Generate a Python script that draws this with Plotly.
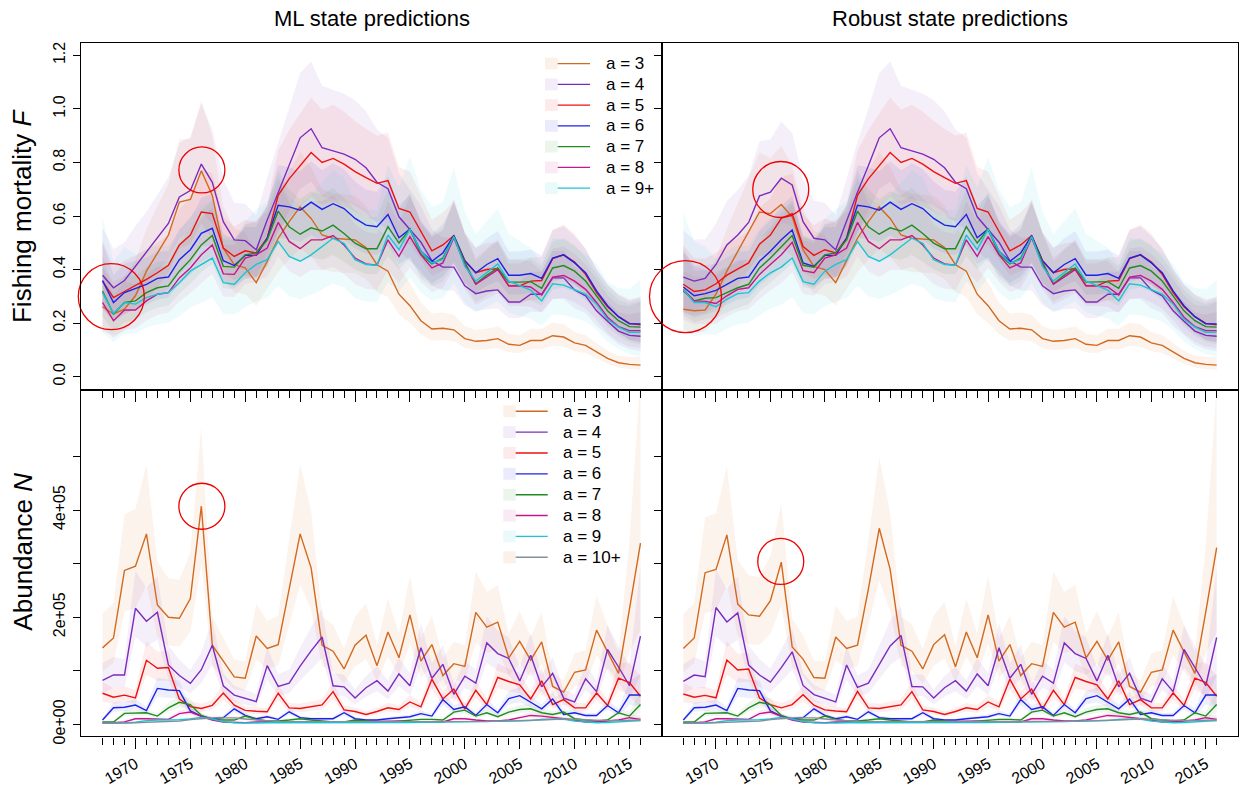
import math
import plotly.graph_objects as go

# ---------------- data ----------------
years = list(range(1967, 2017))

# Fishing mortality, ML state predictions
F_ml_a3 = [0.261,0.234,0.252,0.302,0.394,0.462,0.529,0.652,0.662,0.769,0.677,0.480,0.418,0.406,0.351,0.431,0.517,0.579,0.634,0.591,0.529,0.517,0.514,0.511,0.482,0.418,0.394,0.308,0.265,0.209,0.178,0.181,0.175,0.142,0.132,0.135,0.142,0.121,0.117,0.135,0.135,0.153,0.148,0.126,0.117,0.092,0.068,0.052,0.046,0.043]
F_ml_a4 = [0.379,0.332,0.359,0.412,0.462,0.517,0.572,0.671,0.695,0.794,0.726,0.579,0.511,0.508,0.474,0.585,0.689,0.788,0.892,0.926,0.855,0.843,0.831,0.812,0.780,0.726,0.702,0.597,0.548,0.502,0.433,0.409,0.409,0.339,0.310,0.320,0.324,0.279,0.279,0.308,0.308,0.369,0.369,0.324,0.302,0.246,0.207,0.170,0.154,0.151]
F_ml_a5 = [0.357,0.295,0.318,0.339,0.363,0.388,0.416,0.492,0.529,0.615,0.609,0.480,0.449,0.470,0.462,0.517,0.677,0.739,0.788,0.837,0.800,0.815,0.794,0.766,0.743,0.722,0.732,0.628,0.615,0.542,0.470,0.492,0.527,0.433,0.388,0.400,0.403,0.339,0.339,0.357,0.359,0.441,0.455,0.428,0.382,0.314,0.261,0.224,0.199,0.194]
F_ml_a6 = [0.359,0.277,0.314,0.330,0.345,0.367,0.372,0.437,0.474,0.535,0.554,0.433,0.415,0.453,0.453,0.517,0.640,0.634,0.622,0.652,0.625,0.646,0.628,0.591,0.566,0.560,0.606,0.519,0.551,0.468,0.431,0.462,0.527,0.433,0.388,0.419,0.441,0.379,0.379,0.385,0.367,0.443,0.455,0.425,0.388,0.320,0.265,0.224,0.197,0.197]
F_ml_a7 = [0.320,0.234,0.277,0.283,0.314,0.332,0.339,0.394,0.437,0.492,0.527,0.412,0.409,0.455,0.462,0.511,0.618,0.560,0.532,0.556,0.544,0.566,0.535,0.499,0.478,0.478,0.560,0.499,0.551,0.458,0.421,0.443,0.523,0.428,0.347,0.379,0.406,0.353,0.353,0.355,0.330,0.406,0.415,0.394,0.357,0.302,0.246,0.209,0.187,0.185]
F_ml_a8 = [0.277,0.209,0.249,0.249,0.283,0.308,0.314,0.369,0.406,0.455,0.492,0.384,0.382,0.443,0.455,0.480,0.576,0.505,0.478,0.511,0.511,0.527,0.492,0.443,0.421,0.416,0.511,0.449,0.523,0.455,0.406,0.425,0.519,0.419,0.345,0.372,0.400,0.339,0.339,0.335,0.305,0.372,0.378,0.357,0.326,0.277,0.222,0.187,0.172,0.172]
F_ml_a9 = [0.314,0.236,0.277,0.271,0.295,0.308,0.314,0.351,0.394,0.419,0.443,0.351,0.345,0.388,0.419,0.437,0.505,0.449,0.431,0.455,0.486,0.517,0.498,0.437,0.419,0.416,0.529,0.474,0.551,0.468,0.425,0.437,0.523,0.412,0.357,0.388,0.421,0.357,0.339,0.323,0.283,0.347,0.342,0.326,0.308,0.271,0.215,0.185,0.166,0.166]

# Fishing mortality, robust state predictions
F_rb_a3 = [0.252,0.246,0.249,0.308,0.394,0.468,0.542,0.615,0.609,0.643,0.597,0.474,0.412,0.400,0.351,0.431,0.517,0.579,0.634,0.591,0.529,0.517,0.514,0.511,0.482,0.418,0.394,0.308,0.265,0.209,0.178,0.181,0.175,0.142,0.132,0.135,0.142,0.121,0.117,0.135,0.135,0.153,0.148,0.126,0.117,0.092,0.068,0.052,0.046,0.043]
F_rb_a4 = [0.372,0.357,0.367,0.419,0.492,0.529,0.576,0.675,0.689,0.741,0.716,0.579,0.517,0.511,0.474,0.585,0.689,0.788,0.892,0.926,0.855,0.843,0.831,0.812,0.780,0.726,0.702,0.597,0.548,0.502,0.433,0.409,0.409,0.339,0.310,0.320,0.324,0.279,0.279,0.308,0.308,0.369,0.369,0.324,0.302,0.246,0.207,0.170,0.154,0.151]
F_rb_a5 = [0.345,0.318,0.324,0.347,0.379,0.403,0.425,0.495,0.529,0.591,0.609,0.486,0.453,0.474,0.462,0.517,0.677,0.739,0.788,0.837,0.800,0.815,0.794,0.766,0.743,0.722,0.732,0.628,0.615,0.542,0.470,0.492,0.527,0.433,0.388,0.400,0.403,0.339,0.339,0.357,0.359,0.441,0.455,0.428,0.382,0.314,0.261,0.224,0.199,0.194]
F_rb_a6 = [0.335,0.302,0.310,0.322,0.345,0.367,0.372,0.431,0.468,0.511,0.548,0.425,0.412,0.453,0.453,0.517,0.640,0.634,0.622,0.652,0.625,0.646,0.628,0.591,0.566,0.560,0.606,0.519,0.551,0.468,0.431,0.462,0.527,0.433,0.388,0.419,0.441,0.379,0.379,0.385,0.367,0.443,0.455,0.425,0.388,0.320,0.265,0.224,0.197,0.197]
F_rb_a7 = [0.326,0.283,0.293,0.295,0.314,0.332,0.345,0.406,0.443,0.486,0.527,0.416,0.409,0.455,0.462,0.511,0.618,0.560,0.532,0.556,0.544,0.566,0.535,0.499,0.478,0.478,0.560,0.499,0.551,0.458,0.421,0.443,0.523,0.428,0.347,0.379,0.406,0.353,0.353,0.355,0.330,0.406,0.415,0.394,0.357,0.302,0.246,0.209,0.187,0.185]
F_rb_a8 = [0.320,0.283,0.281,0.273,0.302,0.326,0.332,0.382,0.419,0.455,0.502,0.396,0.388,0.443,0.455,0.480,0.576,0.505,0.478,0.511,0.511,0.527,0.492,0.443,0.421,0.416,0.511,0.449,0.523,0.455,0.406,0.425,0.519,0.419,0.345,0.372,0.400,0.339,0.339,0.335,0.305,0.372,0.378,0.357,0.326,0.277,0.222,0.187,0.172,0.172]
F_rb_a9 = [0.324,0.277,0.277,0.261,0.289,0.310,0.314,0.357,0.388,0.409,0.443,0.355,0.345,0.394,0.419,0.437,0.505,0.449,0.431,0.455,0.486,0.517,0.498,0.437,0.419,0.416,0.529,0.474,0.551,0.468,0.425,0.437,0.523,0.412,0.357,0.388,0.421,0.357,0.339,0.323,0.283,0.347,0.342,0.326,0.308,0.271,0.215,0.185,0.166,0.166]

# Abundance (units of 1e5), ML state predictions
N_ml_a3 = [1.427,1.611,2.872,2.952,3.555,2.226,1.999,1.980,2.349,4.071,1.476,1.181,0.886,0.861,1.648,1.415,1.488,2.522,3.555,2.921,1.476,1.365,1.033,1.476,1.661,1.095,1.722,1.242,2.042,1.181,1.488,0.910,1.132,1.082,2.091,1.814,1.907,1.242,1.550,1.199,1.538,0.707,0.600,0.972,1.015,1.759,1.353,0.950,2.153,3.383]
N_ml_a4 = [0.818,0.922,0.922,2.165,1.925,2.091,1.107,0.910,0.765,1.020,1.476,0.720,0.545,0.485,0.425,1.095,0.707,0.769,1.085,1.370,1.630,0.720,0.700,0.492,0.683,0.815,0.620,0.940,0.720,1.430,0.860,1.120,0.560,0.900,0.770,1.520,1.320,1.230,0.810,1.290,0.700,0.950,0.490,0.420,0.850,0.610,1.400,1.070,0.720,1.645]
N_ml_a5 = [0.580,0.505,0.545,0.495,1.195,1.046,1.060,0.470,0.330,0.295,0.355,0.584,0.357,0.260,0.245,0.235,0.580,0.308,0.295,0.325,0.362,0.610,0.270,0.240,0.185,0.240,0.308,0.277,0.418,0.326,0.843,0.474,0.658,0.290,0.634,0.369,0.874,0.800,0.738,0.474,0.812,0.369,0.462,0.308,0.308,0.585,0.351,0.861,0.781,0.523]
N_ml_a6 = [0.080,0.310,0.320,0.360,0.258,0.670,0.640,0.630,0.250,0.154,0.105,0.124,0.290,0.166,0.105,0.142,0.093,0.234,0.124,0.105,0.105,0.105,0.216,0.105,0.080,0.080,0.105,0.124,0.142,0.200,0.154,0.462,0.277,0.326,0.166,0.369,0.216,0.480,0.535,0.412,0.290,0.474,0.185,0.216,0.166,0.166,0.351,0.216,0.547,0.547]
N_ml_a7 = [0.044,0.044,0.204,0.204,0.216,0.154,0.308,0.412,0.369,0.166,0.093,0.080,0.080,0.154,0.093,0.062,0.062,0.080,0.105,0.080,0.062,0.044,0.044,0.080,0.062,0.044,0.044,0.062,0.080,0.093,0.093,0.080,0.228,0.265,0.154,0.216,0.142,0.228,0.277,0.290,0.216,0.185,0.228,0.105,0.080,0.062,0.080,0.216,0.154,0.369]
N_ml_a8 = [0.030,0.030,0.045,0.105,0.105,0.093,0.093,0.200,0.230,0.150,0.080,0.044,0.030,0.030,0.044,0.044,0.030,0.030,0.030,0.030,0.030,0.030,0.030,0.040,0.050,0.060,0.060,0.060,0.044,0.044,0.044,0.044,0.105,0.105,0.080,0.062,0.062,0.080,0.124,0.166,0.154,0.124,0.105,0.080,0.044,0.044,0.062,0.080,0.124,0.093]
N_ml_a9 = [0.020,0.020,0.025,0.040,0.070,0.080,0.080,0.085,0.100,0.130,0.100,0.050,0.030,0.025,0.025,0.030,0.030,0.025,0.030,0.030,0.030,0.030,0.025,0.030,0.030,0.030,0.030,0.030,0.035,0.040,0.040,0.040,0.050,0.050,0.050,0.050,0.060,0.060,0.060,0.070,0.090,0.100,0.100,0.060,0.040,0.030,0.035,0.050,0.060,0.070]
N_ml_a10 = [0.020,0.020,0.025,0.030,0.040,0.050,0.050,0.060,0.090,0.110,0.120,0.120,0.120,0.100,0.080,0.060,0.050,0.050,0.050,0.050,0.050,0.050,0.050,0.050,0.050,0.050,0.050,0.045,0.045,0.050,0.050,0.050,0.050,0.050,0.050,0.050,0.055,0.060,0.070,0.080,0.090,0.100,0.100,0.090,0.080,0.070,0.070,0.070,0.080,0.080]

# Abundance (units of 1e5), robust state predictions
N_rb_a3 = [1.415,1.611,2.830,2.891,3.536,2.245,2.042,2.017,2.306,3.026,1.445,1.218,0.873,0.861,1.630,1.415,1.476,2.522,3.659,2.891,1.476,1.365,1.033,1.488,1.673,1.076,1.722,1.242,2.042,1.181,1.488,0.910,1.132,1.082,2.091,1.814,1.907,1.242,1.550,1.199,1.538,0.707,0.600,0.972,1.015,1.759,1.353,0.950,2.100,3.300]
N_rb_a4 = [0.800,0.920,0.890,2.180,1.910,2.080,1.107,0.920,0.787,1.058,1.353,0.726,0.554,0.480,0.418,1.107,0.689,0.769,1.107,1.464,1.660,0.707,0.700,0.492,0.683,0.815,0.620,0.940,0.720,1.430,0.860,1.120,0.560,0.900,0.770,1.520,1.320,1.230,0.810,1.290,0.700,0.950,0.490,0.420,0.850,0.610,1.400,1.070,0.720,1.620]
N_rb_a5 = [0.566,0.505,0.540,0.495,1.200,1.015,1.033,0.490,0.369,0.308,0.369,0.554,0.357,0.270,0.250,0.235,0.615,0.308,0.295,0.325,0.362,0.610,0.270,0.240,0.185,0.240,0.308,0.277,0.418,0.326,0.843,0.474,0.658,0.290,0.634,0.369,0.874,0.800,0.738,0.474,0.812,0.369,0.462,0.308,0.308,0.585,0.351,0.861,0.781,0.523]
N_rb_a6 = N_ml_a6
N_rb_a7 = N_ml_a7
N_rb_a8 = N_ml_a8
N_rb_a9 = N_ml_a9
N_rb_a10 = N_ml_a10

# uncertainty (log-scale half widths of the shaded bands)
F_band_age = [0.28, 0.24, 0.22, 0.21, 0.22, 0.25, 0.40]
F_band_year = [1.6,1.5,1.4,1.3,1.2,1.15,1.1,1.1,1.05,1.05] + [1.0]*35 + [1.1,1.25,1.45,1.7,1.95]
N_band_age = [0.31, 0.28, 0.26, 0.26, 0.27, 0.28, 0.30, 0.30]
N_band_year = [1.2,1.1,1.0,1.0,1.0] + [1.0]*42 + [1.1,1.5,2.1]

F_labels = ["a = 3", "a = 4", "a = 5", "a = 6", "a = 7", "a = 8", "a = 9+"]
N_labels = ["a = 3", "a = 4", "a = 5", "a = 6", "a = 7", "a = 8", "a = 9", "a = 10+"]

F_major = [1970, 1975, 1980, 1985, 1990, 1995, 2000, 2005, 2010, 2015]
F_ticks = [0.0, 0.2, 0.4, 0.6, 0.8, 1.0, 1.2]
N_ticks = [0, 100000, 200000, 300000, 400000, 500000]
N_ticktext = ["0e+00", "", "2e+05", "", "4e+05", ""]

# highlighted points (year, value, radius in px)
circ_F_ml = [(1967.8, 0.299, 33), (1976.05, 0.772, 23)]
circ_F_rb = [(1967.2, 0.299, 36), (1975.95, 0.699, 28)]
circ_N_ml = [(1976.05, 407000, 23)]
circ_N_rb = [(1975.95, 304000, 23)]

# ---------------- style ----------------
line_cols = ["#D2691E", "#7B2CBF", "#EE1111", "#1E22E6", "#228B22", "#C7158A", "#16C6D6", "#8090A0"]
band_rgb = [(217, 95, 14), (123, 44, 191), (238, 17, 17), (30, 34, 230), (34, 139, 34), (199, 21, 138), (22, 198, 214), (217, 95, 14)]
FONT = "Liberation Sans, Arial, sans-serif"
W, H = 1244, 787

def px(p):
    return p / W

def py(p):
    return 1 - p / H

XL = [px(81), px(662)]
XR = [px(662), px(1238)]
YT = [py(393), py(42)]
YB = [py(744), py(393)]

fig = go.Figure()

F_ml = [F_ml_a3, F_ml_a4, F_ml_a5, F_ml_a6, F_ml_a7, F_ml_a8, F_ml_a9]
F_rb = [F_rb_a3, F_rb_a4, F_rb_a5, F_rb_a6, F_rb_a7, F_rb_a8, F_rb_a9]
N_ml = [N_ml_a3, N_ml_a4, N_ml_a5, N_ml_a6, N_ml_a7, N_ml_a8, N_ml_a9, N_ml_a10]
N_rb = [N_rb_a3, N_rb_a4, N_rb_a5, N_rb_a6, N_rb_a7, N_rb_a8, N_rb_a9, N_rb_a10]


def add_panel(series, band_age, band_year, scale, xa, ya, circles):
    for j, s in enumerate(series):
        up = [v * scale * math.exp(band_age[j] * band_year[i]) for i, v in enumerate(s)]
        lo = [v * scale * math.exp(-band_age[j] * band_year[i]) for i, v in enumerate(s)]
        r, g, b = band_rgb[j]
        fig.add_trace(go.Scatter(x=years + years[::-1], y=up + lo[::-1], fill="toself",
                                 fillcolor=f"rgba({r},{g},{b},0.075)", line=dict(width=0),
                                 mode="lines", hoverinfo="skip", showlegend=False,
                                 xaxis=xa, yaxis=ya))
    for j, s in enumerate(series):
        fig.add_trace(go.Scatter(x=years, y=[v * scale for v in s], mode="lines",
                                 line=dict(color=line_cols[j], width=1.4),
                                 showlegend=False, xaxis=xa, yaxis=ya))
    for (cx, cy, rad) in circles:
        fig.add_trace(go.Scatter(x=[cx], y=[cy], mode="markers", cliponaxis=False,
                                 marker=dict(symbol="circle-open", size=2 * rad, color="#EE0000",
                                             line=dict(width=1.3, color="#EE0000")),
                                 showlegend=False, hoverinfo="skip", xaxis=xa, yaxis=ya))


add_panel(F_ml, F_band_age, F_band_year, 1.0, "x", "y", circ_F_ml)
add_panel(F_rb, F_band_age, F_band_year, 1.0, "x2", "y2", circ_F_rb)
add_panel(N_ml, N_band_age, N_band_year, 1e5, "x3", "y3", circ_N_ml)
add_panel(N_rb, N_band_age, N_band_year, 1e5, "x4", "y4", circ_N_rb)

minor_years = [y for y in years if y % 5 != 0]
tfont = dict(family=FONT, size=16, color="black")


def xaxis(domain, anchor, labels):
    return dict(domain=domain, anchor=anchor, range=[1965.04, 2017.96], showline=True, mirror=True,
                linecolor="black", linewidth=1.3, ticks="outside", tickmode="array", tickvals=F_major,
                ticklen=11, tickwidth=1.2, tickcolor="black", showgrid=False, zeroline=False,
                showticklabels=labels, tickangle=-30, tickfont=tfont,
                minor=dict(tickmode="array", tickvals=minor_years, ticks="outside", ticklen=7,
                           tickwidth=1.2, tickcolor="black", showgrid=False))


def yaxis(domain, anchor, rng, tv, tt, labels):
    return dict(domain=domain, anchor=anchor, range=rng, showline=True, mirror=True,
                linecolor="black", linewidth=1.3, ticks="outside", tickmode="array", tickvals=tv,
                ticktext=tt, ticklen=7, tickwidth=1.2, tickcolor="black", showgrid=False,
                zeroline=False, showticklabels=labels, tickangle=-90, tickfont=tfont,
                ticklabelstandoff=1)


F_tt = [f"{v:.1f}" for v in F_ticks]
fig.update_layout(
    width=W, height=H, margin=dict(l=0, r=0, t=0, b=0),
    paper_bgcolor="white", plot_bgcolor="white", showlegend=False,
    font=dict(family=FONT, color="black"),
    xaxis=xaxis(XL, "y", False), yaxis=yaxis(YT, "x", [-0.048, 1.248], F_ticks, F_tt, True),
    xaxis2=xaxis(XR, "y2", False), yaxis2=yaxis(YT, "x2", [-0.048, 1.248], F_ticks, F_tt, False),
    xaxis3=xaxis(XL, "y3", True), yaxis3=yaxis(YB, "x3", [-22700, 624900], N_ticks, N_ticktext, True),
    xaxis4=xaxis(XR, "y4", True), yaxis4=yaxis(YB, "x4", [-22700, 624900], N_ticks, N_ticktext, False),
)

ann = []
shapes = []
ann.append(dict(text="ML state predictions", x=px(371.5), y=py(18), xref="paper", yref="paper",
                showarrow=False, font=dict(size=22, family=FONT), xanchor="center", yanchor="middle"))
ann.append(dict(text="Robust state predictions", x=px(950), y=py(18), xref="paper", yref="paper",
                showarrow=False, font=dict(size=22, family=FONT), xanchor="center", yanchor="middle"))
ann.append(dict(text="Fishing mortality <i>F</i>", x=px(22), y=py(217.5), xref="paper", yref="paper",
                showarrow=False, textangle=-90, font=dict(size=26, family=FONT),
                xanchor="center", yanchor="middle"))
ann.append(dict(text="Abundance <i>N</i>", x=px(23), y=py(557), xref="paper", yref="paper",
                showarrow=False, textangle=-90, font=dict(size=26, family=FONT),
                xanchor="center", yanchor="middle"))


def legend(labels, x_sw, x_l0, x_l1, x_t, y0, dy, sw_cols):
    for k, lab in enumerate(labels):
        yc = y0 + dy * k
        r, g, b = sw_cols[k]
        shapes.append(dict(type="rect", xref="paper", yref="paper", x0=px(x_sw), x1=px(x_l0),
                           y0=py(yc + 6), y1=py(yc - 6), line=dict(width=0),
                           fillcolor=f"rgba({r},{g},{b},0.09)"))
        shapes.append(dict(type="line", xref="paper", yref="paper", x0=px(x_l0), x1=px(x_l1),
                           y0=py(yc), y1=py(yc), line=dict(color=line_cols[k], width=1.4)))
        ann.append(dict(text=lab, x=px(x_t), y=py(yc), xref="paper", yref="paper", showarrow=False,
                        xanchor="left", yanchor="middle", font=dict(size=17, family=FONT)))


legend(F_labels, 545, 557.7, 590, 604, 63.3, 21.0, band_rgb)
legend(N_labels, 503.3, 515.7, 547.7, 561, 415.0, 21.1, band_rgb)

fig.update_layout(annotations=ann, shapes=shapes)
fig.write_html("out.html")
